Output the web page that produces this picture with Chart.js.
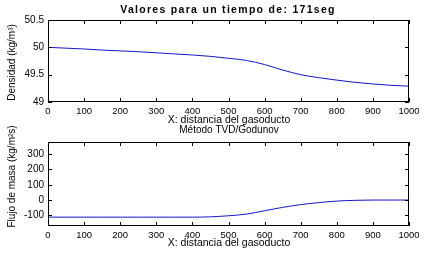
<!DOCTYPE html>
<html>
<head>
<meta charset="utf-8">
<script src="https://cdn.jsdelivr.net/npm/chart.js@4.4.1/dist/chart.umd.min.js"></script>
<style>
  html, body { margin: 0; padding: 0; background: #fff; }
  #wrap { position: relative; width: 428px; height: 260px; }
  #wrap div { position: absolute; left: 0; top: 0; width: 428px; height: 260px; }
</style>
</head>
<body>
<div id="wrap">
  <div><canvas id="chartDensidad"></canvas></div>
  <div><canvas id="chartFlujo"></canvas></div>
</div>
<script>
// posiciones a lo largo del gasoducto
const xPos = [0, 50, 100, 150, 200, 250, 300, 350, 400, 450, 500,
              550, 600, 650, 700, 750, 800, 850, 900, 950, 1000];
// densidad (kg/m3)
const densidad = [50.00, 49.985, 49.97, 49.95, 49.935, 49.92, 49.90, 49.88, 49.86, 49.835, 49.80,
                  49.76, 49.685, 49.585, 49.50, 49.445, 49.40, 49.36, 49.33, 49.305, 49.29];
// flujo de masa (kg/m2s)
const flujo = [-112, -112, -112, -112, -112, -112, -112, -112, -112, -110, -103,
               -92, -70, -48, -30, -17, -7, -2, 0, 0, 0];

const xTicks = [0, 100, 200, 300, 400, 500, 600, 700, 800, 900, 1000];
const densTicks = [49, 49.5, 50, 50.5];
const flujoTicks = [-100, 0, 100, 200, 300];

const FONT = "'Liberation Sans', Arial, sans-serif";
const NARROW = "'Liberation Sans Narrow', 'Arial Narrow', 'Liberation Sans', sans-serif";
Chart.defaults.font.family = FONT;
Chart.defaults.color = '#000';

// marco tipo matlab, marcas hacia dentro y textos
const matlabBox = {
  id: 'matlabBox',
  afterDraw(chart, args, o) {
    const { ctx, chartArea: a, scales: { x, y } } = chart;
    ctx.save();
    ctx.strokeStyle = '#000';
    ctx.lineWidth = 1;
    ctx.strokeRect(a.left + 0.5, a.top + 0.5, a.width - 1, a.height - 1);
    ctx.beginPath();
    x.ticks.forEach(t => {
      const px = Math.round(x.getPixelForValue(t.value)) + 0.5;
      ctx.moveTo(px, a.top); ctx.lineTo(px, a.top + 4);
      ctx.moveTo(px, a.bottom); ctx.lineTo(px, a.bottom - 4);
    });
    y.ticks.forEach(t => {
      const py = Math.round(y.getPixelForValue(t.value)) + 0.5;
      ctx.moveTo(a.left, py); ctx.lineTo(a.left + 4, py);
      ctx.moveTo(a.right, py); ctx.lineTo(a.right - 4, py);
    });
    ctx.stroke();

    ctx.fillStyle = '#000';
    ctx.textBaseline = 'middle';
    ctx.textAlign = 'center';
    (o.texts || []).forEach(t => {
      ctx.save();
      ctx.font = t.font;
      ctx.letterSpacing = t.spacing || '0px';
      ctx.translate(t.x, t.y);
      if (t.rot) ctx.rotate(t.rot);
      ctx.fillText(t.text, 0, 0);
      ctx.restore();
    });
    ctx.restore();
  }
};

function makeChart(id, values, yMin, yMax, yTicks, pad, xH, texts) {
  return new Chart(document.getElementById(id), {
    type: 'line',
    data: {
      datasets: [{
        data: xPos.map((x, i) => ({ x, y: values[i] })),
        borderColor: '#1414c8',
        borderWidth: 1,
        pointRadius: 0,
        cubicInterpolationMode: 'monotone',
        fill: false
      }]
    },
    options: {
      responsive: true,
      maintainAspectRatio: false,
      animation: false,
      layout: { padding: pad },
      scales: {
        x: {
          type: 'linear', min: 0, max: 1000,
          afterBuildTicks: s => { s.ticks = xTicks.map(v => ({ value: v })); },
          afterFit: s => { s.height = xH; },
          grid: { display: false, drawTicks: false },
          border: { display: false },
          ticks: { font: { size: 9.5 }, padding: 4, maxRotation: 0, autoSkip: false,
                   callback: v => String(v) }
        },
        y: {
          min: yMin, max: yMax,
          afterBuildTicks: s => { s.ticks = yTicks.map(v => ({ value: v })); },
          afterFit: s => { s.width = 48; },
          grid: { display: false, drawTicks: false },
          border: { display: false },
          ticks: { font: { size: 10 }, padding: 4, callback: v => String(v) }
        }
      },
      plugins: {
        legend: { display: false },
        tooltip: { enabled: false },
        matlabBox: { texts }
      }
    },
    plugins: [matlabBox]
  });
}

makeChart('chartDensidad', densidad, 49, 50.5, densTicks,
  { left: 0, right: 19, top: 20, bottom: 130 }, 28, [
    { text: 'Valores para un tiempo de: 171seg', font: 'bold 10.5px ' + FONT, spacing: '1.3px', x: 228, y: 10.5 },
    { text: 'X: distancia del gasoducto', font: '10.5px ' + FONT, x: 229, y: 120 },
    { text: 'Densidad (kg/m\u00b3)', font: '10px ' + NARROW, x: 12.5, y: 62.5, rot: -Math.PI / 2 }
  ]);

makeChart('chartFlujo', flujo, -170, 380, flujoTicks,
  { left: 0, right: 19, top: 142, bottom: 0 }, 34, [
    { text: 'M\u00e9todo TVD/Godunov', font: '10px ' + FONT, x: 229, y: 130 },
    { text: 'X: distancia del gasoducto', font: '10.5px ' + FONT, x: 229, y: 243 },
    { text: 'Flujo de masa (kg/m\u00b2s)', font: '10px ' + NARROW, x: 12.5, y: 176.5, rot: -Math.PI / 2 }
  ]);
</script>
</body>
</html>
